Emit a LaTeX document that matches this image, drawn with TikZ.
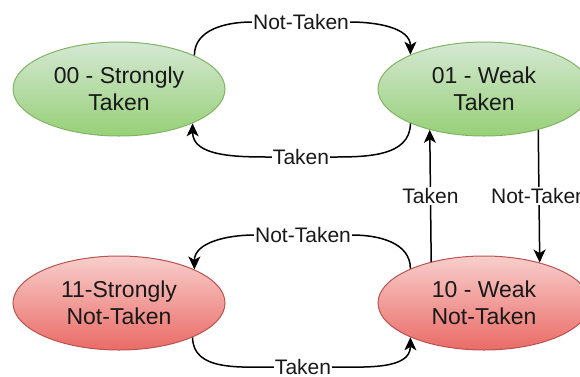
\documentclass[tikz,border=0pt]{standalone}
\usepackage{fontspec}
\setmainfont{Liberation Sans}
\usetikzlibrary{shapes,arrows.meta,positioning}
\definecolor{takenTop}{HTML}{D5E8D4}
\definecolor{takenBot}{HTML}{97D077}
\definecolor{takenLine}{HTML}{82B366}
\definecolor{notTop}{HTML}{F8CECC}
\definecolor{notBot}{HTML}{EA6B66}
\definecolor{notLine}{HTML}{B85450}
\tikzstyle{takenstate} = [ellipse, draw=takenLine, line width=1pt,
    top color=takenTop, bottom color=takenBot, text=black!90,
    minimum width=212pt, minimum height=94pt, align=center,
    font=\fontsize{23}{27}\selectfont]
\tikzstyle{nottakenstate} = [ellipse, draw=notLine, line width=1pt,
    top color=notTop, bottom color=notBot, text=black!90,
    minimum width=212pt, minimum height=94pt, align=center,
    font=\fontsize{23}{27}\selectfont]
\tikzstyle{edgelabel} = [fill=white, inner sep=1pt, text=black!90,
    font=\fontsize{21}{25}\selectfont]
\tikzstyle{transition} = [draw, line width=1.5pt,
    -{Stealth[length=13pt,width=12pt,inset=3.5pt]}]

\begin{document}
\begin{tikzpicture}[x=1pt, y=1pt]
    \useasboundingbox (0,0) rectangle (580,-376);

    \node[takenstate] (strongT) at (119,-89) {00 - Strongly\\Taken};
    \node[takenstate, right=152pt of strongT] (weakT) {01 - Weak\\Taken};
    \node[nottakenstate, below=119pt of strongT] (strongNT) {11-Strongly\\Not-Taken};
    \node[nottakenstate, below=119pt of weakT] (weakNT) {10 - Weak\\Not-Taken};

    \node[edgelabel] (ntTop) at (301,-22) {Not-Taken};
    \node[edgelabel] (tTop) at (301,-157) {Taken};
    \node[edgelabel] (ntBot) at (303,-235) {Not-Taken};
    \node[edgelabel] (tBot) at (303,-367) {Taken};

    \path[transition] (strongT.24.5) to[out=90,in=180] (ntTop) to[out=0,in=90] (weakT.155);
    \path[transition] (weakT.205) to[out=-90,in=0] (tTop) to[out=180,in=-90] (strongT.335.5);
    \path[transition] (weakNT.155) to[out=90,in=0] (ntBot) to[out=180,in=90] (strongNT.24.5);
    \path[transition] (strongNT.335.5) to[out=-90,in=180] (tBot) to[out=0,in=-90] (weakNT.205);

    \path[transition] (weakNT.142.5) -- node[edgelabel] {Taken} (weakT.217.5);
    \path[transition] (weakT.323.2) -- node[edgelabel] {Not-Taken} (weakNT.36.8);
\end{tikzpicture}
\end{document}
